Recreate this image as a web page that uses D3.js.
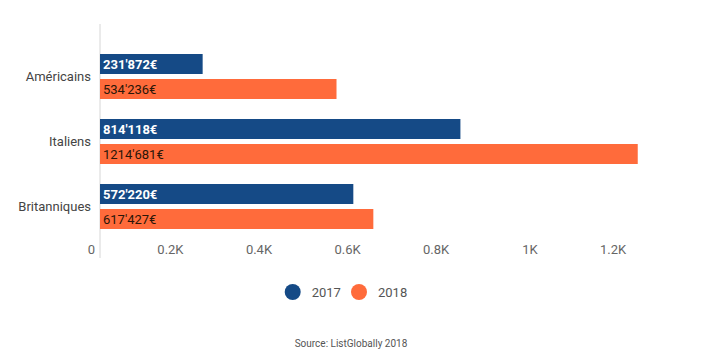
<!DOCTYPE html>
<html><head><meta charset="utf-8">
<script src="https://cdn.jsdelivr.net/npm/d3@7"></script>
<style>body{margin:0;background:#fff;} svg{display:block;font-family:Roboto,sans-serif;}</style>
</head><body>
<svg id="c" width="719" height="355"></svg>
<script>
const categories = ["Américains", "Italiens", "Britanniques"];
const series = ["2017", "2018"];
const values2017 = [231872, 814118, 572220];
const values2018 = [534236, 1214681, 617427];
const labels2017 = ["231'872€", "814'118€", "572'220€"];
const labels2018 = ["534'236€", "1214'681€", "617'427€"];
const tickValues = [0, 0.2, 0.4, 0.6, 0.8, 1, 1.2];
const tickLabels = ["0", "0.2K", "0.4K", "0.6K", "0.8K", "1K", "1.2K"];
const colors = ["#154a86", "#ff6b3b"];
const source = "Source: ListGlobally 2018";

const svg = d3.select("#c");
const x = d3.scaleLinear().domain([0, 1]).range([100, 542.7]);
const y = d3.scaleBand().domain(categories).range([44, 239]).paddingInner(20/65).paddingOuter(10/65);
const ys = d3.scaleBand().domain(series).range([0, y.bandwidth()]).paddingInner(0.2);
const color = d3.scaleOrdinal().domain(series).range(colors);

// axis line
svg.append("line").attr("x1", 100).attr("x2", 100).attr("y1", 24).attr("y2", 258)
  .attr("stroke", "#d6d6d6").attr("stroke-width", 1);

// tick labels
svg.append("g").selectAll("text").data(tickValues).join("text")
  .attr("x", d => x(d) - 5).attr("y", 254)
  .attr("text-anchor", "end").attr("font-size", 13).attr("fill", "#666")
  .text((d, i) => tickLabels[i]);

// category labels
svg.append("g").selectAll("text").data(categories).join("text")
  .attr("x", 91).attr("y", d => y(d) + y.bandwidth() / 2 + 4.5)
  .attr("text-anchor", "end").attr("font-size", 13).attr("fill", "#444")
  .text(d => d);

const data = [];
categories.forEach((c, i) => {
  data.push({cat: c, s: "2017", v: values2017[i] / 1e6, label: labels2017[i]});
  data.push({cat: c, s: "2018", v: values2018[i] / 1e6, label: labels2018[i]});
});

const g = svg.append("g");
g.selectAll("rect").data(data).join("rect")
  .attr("x", x(0)).attr("y", d => y(d.cat) + ys(d.s))
  .attr("width", d => x(d.v) - x(0)).attr("height", ys.bandwidth())
  .attr("fill", d => color(d.s));

g.selectAll("text").data(data).join("text")
  .attr("x", x(0) + 3).attr("y", d => y(d.cat) + ys(d.s) + ys.bandwidth() / 2 + 4.5)
  .attr("font-size", 13)
  .attr("font-weight", d => d.s === "2017" ? "bold" : "normal")
  .attr("fill", d => d.s === "2017" ? "#fff" : "#2a1608")
  .text(d => d.label);

// legend
const legendX = [292.7, 359];
const lg = svg.append("g");
series.forEach((s, i) => {
  lg.append("circle").attr("cx", legendX[i]).attr("cy", 292).attr("r", 8).attr("fill", color(s));
  lg.append("text").attr("x", legendX[i] + 19).attr("y", 296.5).attr("font-size", 13).attr("fill", "#555").text(s);
});

svg.append("text").attr("x", 351).attr("y", 347).attr("text-anchor", "middle")
  .attr("font-size", 10).attr("fill", "#555").text(source);
</script>
</body></html>
